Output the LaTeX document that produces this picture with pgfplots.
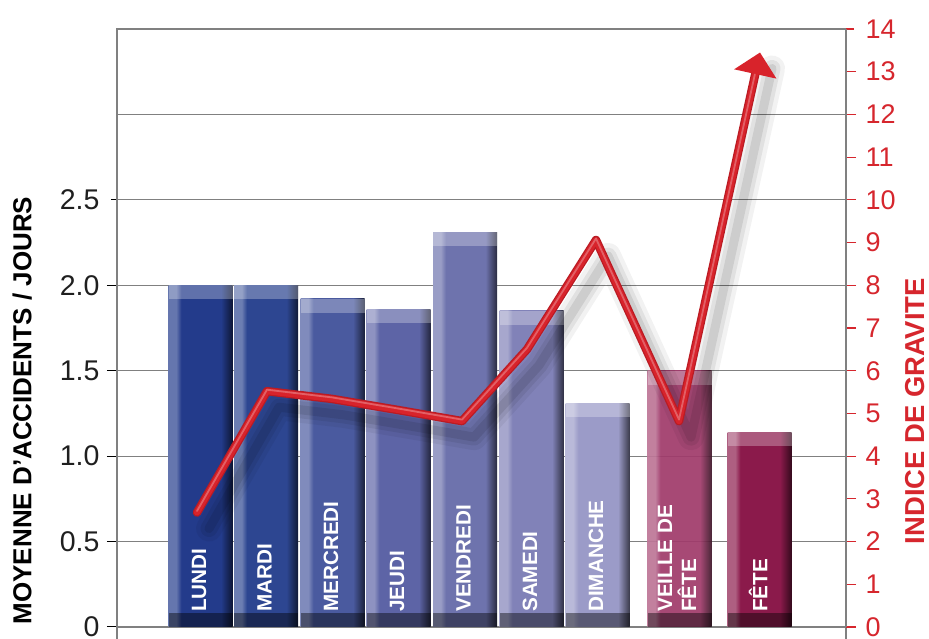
\documentclass[border=0pt]{standalone}
\usepackage{pgfplots}
\pgfplotsset{compat=1.18}
\usepackage{pgfplotstable}
\usepackage{fontspec}
\setmainfont{Liberation Sans}
\usetikzlibrary{arrows.meta}

\definecolor{cLun}{HTML}{233B8B}
\definecolor{cMar}{HTML}{2D4691}
\definecolor{cMer}{HTML}{4A5A9F}
\definecolor{cJeu}{HTML}{5D64A6}
\definecolor{cVen}{HTML}{6E73AD}
\definecolor{cSam}{HTML}{8182B8}
\definecolor{cDim}{HTML}{9B9BC8}
\definecolor{cVei}{HTML}{A03B6B}
\definecolor{cFet}{HTML}{8B1A4B}
\definecolor{myred}{HTML}{D6262D}
\definecolor{linered}{HTML}{D8232B}
\definecolor{linedark}{HTML}{BA1B23}
\definecolor{gridgray}{HTML}{808080}

\newcommand\mkshade[1]{%
  \colorlet{#1L}{#1!70!white}%
  \colorlet{#1D}{#1!38!black}%
  \pgfdeclarehorizontalshading{sh#1}{100bp}{color(0bp)=(#1L); color(31bp)=(#1L); color(35bp)=(#1); color(66bp)=(#1); color(75bp)=(#1D); color(100bp)=(#1D)}}
\mkshade{cLun}\mkshade{cMar}\mkshade{cMer}\mkshade{cJeu}\mkshade{cVen}
\mkshade{cSam}\mkshade{cDim}\mkshade{cVei}\mkshade{cFet}

\pgfplotsset{
  bevelbar/.style={ybar, bar width=64, bar shift=0pt, draw=none, shading=sh#1},
  topband/.style={fill=white, fill opacity=0.28, draw=none, forget plot},
  botband/.style={fill=black, fill opacity=0.42, draw=none, forget plot},
}
\tikzset{barlab/.style={rotate=90, anchor=west, inner sep=0pt, text=white, font=\bfseries\fontsize{20.7}{24}\selectfont}}

\pgfplotstableread{
x y
197 2.68
267 5.52
332 5.34
398 5.08
462 4.82
527 6.50
596 9.06
679 4.82
760 13.45
}\gravite

\begin{document}
\begin{tikzpicture}
\useasboundingbox (0,0) rectangle (929pt,639pt);
\begin{axis}[
  at={(117pt,12pt)}, anchor=south west,
  width=729pt, height=598pt, scale only axis,
  xmin=117, xmax=846, ymin=0, ymax=3.5,
  xtick=\empty,
  ytick={0,0.5,1,1.5,2,2.5},
  yticklabels={0,0.5,1.0,1.5,2.0,2.5},
  ytick pos=left,
  tick align=outside,
  major tick length=10pt,
  ytick style={black, line width=1pt, shorten <=4pt},
  yticklabel style={font=\fontsize{28.5}{30}\selectfont, text=black!88, inner ysep=0pt, xshift=-4pt},
  extra y ticks={3},
  extra y tick labels={},
  extra y tick style={major tick length=4pt, grid=major},
  ymajorgrids,
  grid style={gridgray, line width=1.2pt},
  axis line style={gridgray, line width=1.2pt},
  ylabel={MOYENNE D’ACCIDENTS / JOURS},
  ylabel style={at={(axis description cs:-0.130,0.362)}, anchor=center, inner sep=0pt, font=\bfseries\fontsize{26}{28}\selectfont},
  clip=false,
]
\addplot[bevelbar=cLun] coordinates {(200.5,2.00)};
\addplot[bevelbar=cMar] coordinates {(266,2.00)};
\addplot[bevelbar=cMer] coordinates {(332.5,1.92)};
\addplot[bevelbar=cJeu] coordinates {(398.5,1.86)};
\addplot[bevelbar=cVen] coordinates {(465,2.31)};
\addplot[bevelbar=cSam] coordinates {(531.5,1.85)};
\addplot[bevelbar=cDim] coordinates {(597.5,1.31)};
\addplot[bevelbar=cVei, opacity=0.93] coordinates {(679.5,1.50)};
\addplot[bevelbar=cFet] coordinates {(759.5,1.14)};

% bevel highlights (top) and shadows (bottom)
\addplot[topband] coordinates {(168.5,1.918) (232.5,1.918) (232.5,2.00) (168.5,2.00)};
\addplot[topband] coordinates {(234,1.918) (298,1.918) (298,2.00) (234,2.00)};
\addplot[topband] coordinates {(300.5,1.838) (364.5,1.838) (364.5,1.92) (300.5,1.92)};
\addplot[topband] coordinates {(366.5,1.778) (430.5,1.778) (430.5,1.86) (366.5,1.86)};
\addplot[topband] coordinates {(433,2.228) (497,2.228) (497,2.31) (433,2.31)};
\addplot[topband] coordinates {(499.5,1.768) (563.5,1.768) (563.5,1.85) (499.5,1.85)};
\addplot[topband] coordinates {(565.5,1.228) (629.5,1.228) (629.5,1.31) (565.5,1.31)};
\addplot[topband] coordinates {(647.5,1.418) (711.5,1.418) (711.5,1.50) (647.5,1.50)};
\addplot[topband] coordinates {(727.5,1.058) (791.5,1.058) (791.5,1.14) (727.5,1.14)};
\addplot[botband] coordinates {(168.5,0) (232.5,0) (232.5,0.082) (168.5,0.082)};
\addplot[botband] coordinates {(234,0) (298,0) (298,0.082) (234,0.082)};
\addplot[botband] coordinates {(300.5,0) (364.5,0) (364.5,0.082) (300.5,0.082)};
\addplot[botband] coordinates {(366.5,0) (430.5,0) (430.5,0.082) (366.5,0.082)};
\addplot[botband] coordinates {(433,0) (497,0) (497,0.082) (433,0.082)};
\addplot[botband] coordinates {(499.5,0) (563.5,0) (563.5,0.082) (499.5,0.082)};
\addplot[botband] coordinates {(565.5,0) (629.5,0) (629.5,0.082) (565.5,0.082)};
\addplot[botband] coordinates {(647.5,0) (711.5,0) (711.5,0.082) (647.5,0.082)};
\addplot[botband] coordinates {(727.5,0) (791.5,0) (791.5,0.082) (727.5,0.082)};

\node[barlab] at (axis cs:199,0.088) {LUNDI};
\node[barlab] at (axis cs:264.5,0.088) {MARDI};
\node[barlab] at (axis cs:331,0.088) {MERCREDI};
\node[barlab] at (axis cs:397,0.088) {JEUDI};
\node[barlab] at (axis cs:463.5,0.088) {VENDREDI};
\node[barlab] at (axis cs:530,0.088) {SAMEDI};
\node[barlab] at (axis cs:596,0.088) {DIMANCHE};
\node[barlab, align=left] at (axis cs:677,0.088) {VEILLE DE\\FÊTE};
\node[barlab] at (axis cs:758,0.088) {FÊTE};

\draw[gridgray, line width=1.2pt] (rel axis cs:0,0) -- ++(0pt,-12pt);
\draw[gridgray, line width=1.2pt] (rel axis cs:1,0) -- ++(0pt,-12pt);
\end{axis}

\begin{axis}[
  at={(117pt,12pt)}, anchor=south west,
  width=729pt, height=598pt, scale only axis,
  xmin=117, xmax=846, ymin=0, ymax=14,
  axis x line=none, axis y line*=right,
  ytick={0,1,...,14},
  tick align=outside, major tick length=10pt,
  ytick style={myred, line width=1.2pt, shorten <=2pt},
  yticklabel style={font=\fontsize{27}{29}\selectfont, text=myred, inner ysep=0pt, xshift=6pt},
  /pgf/number format/assume math mode=true,
  axis line style={gridgray, line width=1.2pt},
  ylabel={INDICE DE GRAVITE},
  ylabel style={at={(axis description cs:1.0945,0.361)}, anchor=center, inner sep=0pt, font=\bfseries\fontsize{27.4}{29}\selectfont, text=myred},
  clip=false,
]
\addplot[black, opacity=0.05, line width=26pt, line join=round, line cap=round, transform canvas={xshift=12pt,yshift=-16pt}] table[x=x,y=y] {\gravite};
\addplot[black, opacity=0.07, line width=17pt, line join=round, line cap=round, transform canvas={xshift=12pt,yshift=-16pt}] table[x=x,y=y] {\gravite};
\addplot[black, opacity=0.09, line width=9pt, line join=round, line cap=round, transform canvas={xshift=12pt,yshift=-16pt}] table[x=x,y=y] {\gravite};
\addplot[linedark, line width=8.5pt, line join=round, line cap=round, -{Triangle[length=22pt,width=42pt,color=linered]}] table[x=x,y=y] {\gravite};
\addplot[linered, line width=6pt, line join=round, line cap=round, shorten >=14pt] table[x=x,y=y] {\gravite};
\addplot[white, opacity=0.28, line width=1.8pt, line join=round, line cap=round, shorten >=24pt, transform canvas={yshift=1.5pt}] table[x=x,y=y] {\gravite};
\end{axis}
\end{tikzpicture}
\end{document}
